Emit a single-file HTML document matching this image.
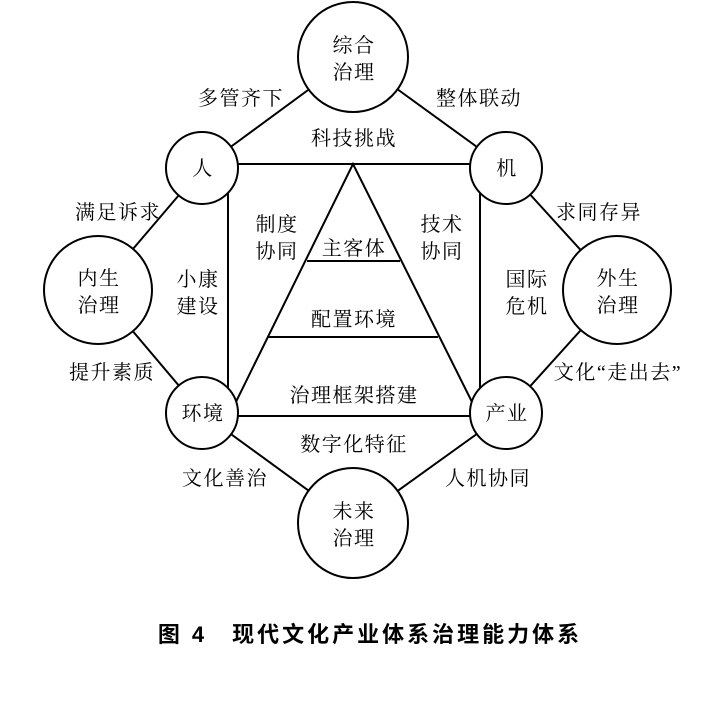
<!DOCTYPE html>
<html><head><meta charset="utf-8"><style>
body{margin:0;background:#fff;}
svg text{font-family:"Liberation Serif","Noto Serif CJK SC",serif;font-size:20px;letter-spacing:1.5px;fill:#000;text-anchor:middle;}
</style></head><body>
<svg width="718" height="697" viewBox="0 0 718 697" xmlns="http://www.w3.org/2000/svg">
<g stroke="#000" stroke-width="2" fill="none">
<line x1="353" y1="57" x2="202" y2="168"/>
<line x1="353" y1="57" x2="506" y2="168"/>
<line x1="353" y1="523" x2="202" y2="413"/>
<line x1="353" y1="523" x2="506" y2="413"/>
<line x1="202" y1="168" x2="98" y2="290"/>
<line x1="202" y1="413" x2="98" y2="290"/>
<line x1="506" y1="168" x2="617" y2="290"/>
<line x1="506" y1="413" x2="617" y2="290"/>
<line x1="202" y1="164" x2="506" y2="164"/>
<line x1="202" y1="416" x2="506" y2="416"/>
<line x1="228" y1="164" x2="228" y2="416"/>
<line x1="480" y1="164" x2="480" y2="416"/>
<polyline points="229,416 353,164 479,416"/>
<line x1="307" y1="261" x2="400" y2="261"/>
<line x1="268" y1="337" x2="438" y2="337"/>
</g>
<g stroke="#000" stroke-width="2" fill="#fff">
<circle cx="353" cy="57" r="55"/>
<circle cx="353" cy="523" r="55"/>
<circle cx="202" cy="168" r="36"/>
<circle cx="506" cy="168" r="36"/>
<circle cx="202" cy="413" r="36"/>
<circle cx="506" cy="413" r="36"/>
<circle cx="98" cy="290" r="54"/>
<circle cx="617" cy="290" r="54"/>
</g>
<text x="354" y="52">综合</text><text x="354" y="79">治理</text>
<text x="354" y="518">未来</text><text x="354" y="545">治理</text>
<text x="99" y="285">内生</text><text x="99" y="312">治理</text>
<text x="618" y="285">外生</text><text x="618" y="312">治理</text>
<text x="203" y="175">人</text><text x="507" y="175">机</text>
<text x="203" y="420">环境</text><text x="507" y="420">产业</text>
<text x="241" y="105">多管齐下</text>
<text x="479" y="105">整体联动</text>
<text x="354" y="145">科技挑战</text>
<text x="118" y="219">满足诉求</text>
<text x="599" y="219">求同存异</text>
<text x="277" y="231">制度</text><text x="277" y="258">协同</text>
<text x="442" y="231">技术</text><text x="442" y="258">协同</text>
<text x="354" y="255">主客体</text>
<text x="198" y="286">小康</text><text x="198" y="313">建设</text>
<text x="527" y="286">国际</text><text x="527" y="313">危机</text>
<text x="354" y="326">配置环境</text>
<text x="112" y="379">提升素质</text>
<text x="618" y="379">文化“走出去”</text>
<text x="354" y="402">治理框架搭建</text>
<text x="354" y="451">数字化特征</text>
<text x="225" y="485">文化善治</text>
<text x="488" y="485">人机协同</text>
<text x="370" y="642" style="font-family:'Liberation Sans','Noto Sans CJK SC',sans-serif;font-weight:bold;font-size:22px;letter-spacing:3px;">图 4　现代文化产业体系治理能力体系</text>
</svg>
</body></html>
